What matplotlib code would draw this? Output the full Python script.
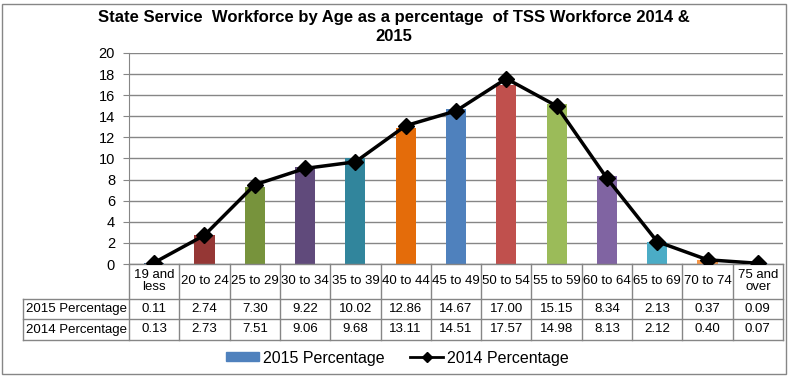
import numpy as np
import matplotlib
matplotlib.use("Agg")
import matplotlib.pyplot as plt
from matplotlib.lines import Line2D
from matplotlib.patches import Patch, Rectangle
from matplotlib.transforms import blended_transform_factory

plt.rcParams['font.family'] = ['Liberation Sans', 'DejaVu Sans']

# ---------------------------------------------------------------------------
# data
# ---------------------------------------------------------------------------

age_groups = ['19 and\nless', '20 to 24', '25 to 29', '30 to 34', '35 to 39',
              '40 to 44', '45 to 49', '50 to 54', '55 to 59', '60 to 64',
              '65 to 69', '70 to 74', '75 and\nover']
pct_2015 = [0.11, 2.74, 7.30, 9.22, 10.02, 12.86, 14.67, 17.00, 15.15, 8.34, 2.13, 0.37, 0.09]
pct_2014 = [0.13, 2.73, 7.51, 9.06, 9.68, 13.11, 14.51, 17.57, 14.98, 8.13, 2.12, 0.40, 0.07]
series_names = ['2015 Percentage', '2014 Percentage']

bar_colours = ['#2C4D75', '#953735', '#77933C', '#604A7B', '#31859C', '#E46C0A',
               '#4F81BD', '#C0504D', '#9BBB59', '#8064A2', '#4BACC6', '#F79646',
               '#95B3D7']

grey = '#868686'
W, H = 788, 378

# ---------------------------------------------------------------------------
# figure and axes (positions in pixels of the reference)
# ---------------------------------------------------------------------------

fig = plt.figure(figsize=(W / 100, H / 100), dpi=100)
ax_l, ax_r, ax_t, ax_b = 129, 783, 53, 264
ax = fig.add_axes([ax_l / W, 1 - ax_b / H, (ax_r - ax_l) / W, (ax_b - ax_t) / H])

x = np.arange(len(age_groups))
ax.bar(x, pct_2015, width=0.4, color=bar_colours, zorder=2)
ax.plot(x, pct_2014, color='black', lw=2.5, marker='D', markersize=8, zorder=3)

ax.set_xlim(-0.5, len(age_groups) - 0.5)
ax.set_ylim(0, 20)
ax.set_yticks(np.arange(0, 21, 2))
ax.set_xticks([])
ax.grid(axis='y', color=grey, lw=1, zorder=0)
for s in ['top', 'right', 'bottom']:
    ax.spines[s].set_visible(False)
ax.spines['left'].set_color(grey)
ax.tick_params(axis='y', colors=grey, length=4, labelcolor='black', labelsize=10.5, pad=6)

fig.text(0.5, 1 - 27 / H, 'State Service  Workforce by Age as a percentage  of TSS Workforce 2014 &\n2015',
         ha='center', va='center', fontsize=12, fontweight='bold', linespacing=1.4)

# ---------------------------------------------------------------------------
# data table under the axis
# ---------------------------------------------------------------------------

tr = blended_transform_factory(ax.transData, ax.transAxes)
ah = ax_b - ax_t
col_w = (ax_r - ax_l) / len(age_groups)
y_head = 0.0
y_r1 = -(299 - ax_b) / ah
y_r2 = -(319 - ax_b) / ah
y_r3 = -(340 - ax_b) / ah
x_left = -0.5 - (ax_l - 23) / col_w
x_right = len(age_groups) - 0.5

line_kw = dict(color=grey, lw=1, transform=tr, clip_on=False)
ax.plot([-0.5, x_right], [y_head, y_head], **line_kw)
for yy in [y_r1, y_r2, y_r3]:
    ax.plot([x_left, x_right], [yy, yy], **line_kw)
ax.plot([x_left, x_left], [y_r1, y_r3], **line_kw)
for k in range(len(age_groups) + 1):
    ax.plot([k - 0.5, k - 0.5], [y_head, y_r3], **line_kw)

for i, lab in enumerate(age_groups):
    ax.text(i, (y_head + y_r1) / 2, lab, transform=tr, ha='center', va='center',
            fontsize=9.5, linespacing=1.0)
    ax.text(i, (y_r1 + y_r2) / 2, f'{pct_2015[i]:.2f}', transform=tr,
            ha='center', va='center', fontsize=9.5)
    ax.text(i, (y_r2 + y_r3) / 2, f'{pct_2014[i]:.2f}', transform=tr,
            ha='center', va='center', fontsize=9.5)
ax.text(x_left + 0.05, (y_r1 + y_r2) / 2, series_names[0], transform=tr,
        ha='left', va='center', fontsize=9.5)
ax.text(x_left + 0.05, (y_r2 + y_r3) / 2, series_names[1], transform=tr,
        ha='left', va='center', fontsize=9.5)

# ---------------------------------------------------------------------------
# legend and chart border
# ---------------------------------------------------------------------------

handles = [Patch(color='#4F81BD', label=series_names[0]),
           Line2D([], [], color='black', lw=2, marker='D', markersize=5, label=series_names[1])]
fig.legend(handles=handles, loc='center', bbox_to_anchor=(0.504, 1 - 358 / H), ncol=2,
           frameon=False, fontsize=11.5, handlelength=2.1, handleheight=0.5,
           columnspacing=1.6, handletextpad=0.2)

fig.patches.append(Rectangle((2 / W, 4 / H), 784 / W, 370 / H, transform=fig.transFigure,
                             fill=False, edgecolor=grey, lw=1))

fig.savefig('out.png', dpi=100)
